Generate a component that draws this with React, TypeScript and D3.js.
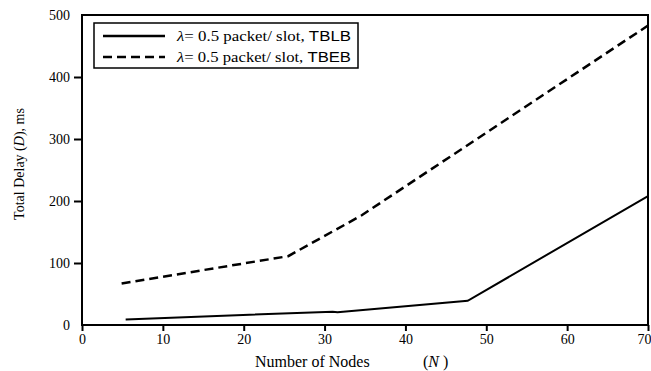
import React, { useRef, useEffect } from 'react';
import * as d3 from 'd3';

// N values and total delay (ms)
const nodesTBLB = [5.4, 31, 31.6, 47.7, 70];
const delayTBLB = [9, 21.5, 20.5, 39, 208];
const nodesTBEB = [4.9, 25.5, 34.6, 70];
const delayTBEB = [67, 111, 177, 483];

const xTicks = [0, 10, 20, 30, 40, 50, 60, 70];
const yTicks = [0, 100, 200, 300, 400, 500];

const legendLabels = ['TBLB', 'TBEB'];
const legendDash = ['none', '9,5'];

const serif = '"Liberation Serif", "Times New Roman", serif';
const sans = '"Liberation Sans", Arial, sans-serif';

const App = () => {
  const ref = useRef<SVGSVGElement>(null);

  useEffect(() => {
    const svg = d3.select(ref.current);
    svg.selectAll('*').remove();

    const left = 82;
    const right = 648;
    const top = 15;
    const bottom = 325;

    const x = d3.scaleLinear().domain([0, 70]).range([left, right]);
    const y = d3.scaleLinear().domain([0, 500]).range([bottom, top]);

    // frame
    svg
      .append('rect')
      .attr('x', left)
      .attr('y', top)
      .attr('width', right - left)
      .attr('height', bottom - top)
      .attr('fill', 'none')
      .attr('stroke', '#000')
      .attr('stroke-width', 2);

    const xAxis = svg
      .append('g')
      .attr('transform', `translate(0,${bottom})`)
      .call(d3.axisBottom(x).tickValues(xTicks).tickSize(6).tickPadding(3));
    xAxis.select('path').remove();
    xAxis.selectAll('line').attr('stroke-width', 2);
    xAxis
      .selectAll('text')
      .attr('font-family', serif)
      .attr('font-size', '14px')
      .attr('fill', '#000');
    // last label sits flush with the page edge
    xAxis
      .selectAll('text')
      .filter((d: any) => d === 70)
      .attr('text-anchor', 'end')
      .attr('dx', '3px');

    const yAxis = svg
      .append('g')
      .attr('transform', `translate(${left},0)`)
      .call(d3.axisLeft(y).tickValues(yTicks).tickSize(8).tickPadding(4));
    yAxis.select('path').remove();
    yAxis.selectAll('line').attr('stroke-width', 2);
    yAxis.selectAll('line').filter((d: any) => d === 0 || d === 500).remove();
    yAxis
      .selectAll('text')
      .attr('font-family', serif)
      .attr('font-size', '14px')
      .attr('fill', '#000');

    // axis titles
    const xt = svg
      .append('text')
      .attr('y', 367)
      .attr('font-family', serif)
      .attr('font-size', '16px');
    xt.append('tspan').attr('x', 255).text('Number of Nodes');
    xt.append('tspan').attr('x', 423).text('(');
    xt.append('tspan').attr('font-style', 'italic').text('N');
    xt.append('tspan').text(' )');

    const yt = svg
      .append('text')
      .attr('transform', 'translate(24,164) rotate(-90)')
      .attr('text-anchor', 'middle')
      .attr('font-family', serif)
      .attr('font-size', '14px');
    yt.append('tspan').text('Total Delay (');
    yt.append('tspan').attr('font-style', 'italic').text('D');
    yt.append('tspan').text('), ms');

    const line = d3
      .line<[number, number]>()
      .x((d) => x(d[0]))
      .y((d) => y(d[1]));

    svg
      .append('path')
      .datum(nodesTBLB.map((n, i) => [n, delayTBLB[i]] as [number, number]))
      .attr('d', line)
      .attr('fill', 'none')
      .attr('stroke', '#000')
      .attr('stroke-width', 2);

    svg
      .append('path')
      .datum(nodesTBEB.map((n, i) => [n, delayTBEB[i]] as [number, number]))
      .attr('d', line)
      .attr('fill', 'none')
      .attr('stroke', '#000')
      .attr('stroke-width', 2.5)
      .attr('stroke-dasharray', '9,5');

    // legend
    const lg = svg.append('g');
    lg.append('rect')
      .attr('x', 94)
      .attr('y', 23)
      .attr('width', 264)
      .attr('height', 45)
      .attr('fill', '#fff')
      .attr('stroke', '#000')
      .attr('stroke-width', 1.5);

    legendLabels.forEach((lab, i) => {
      const ly = 36 + i * 21;
      lg.append('line')
        .attr('x1', 103)
        .attr('x2', 165)
        .attr('y1', ly)
        .attr('y2', ly)
        .attr('stroke', '#000')
        .attr('stroke-width', 2.5)
        .attr('stroke-dasharray', legendDash[i]);
      const t = lg
        .append('text')
        .attr('x', 177)
        .attr('y', ly + 5)
        .attr('font-family', serif)
        .attr('font-size', '15px')
        .attr('textLength', 174)
        .attr('lengthAdjust', 'spacingAndGlyphs');
      t.append('tspan').attr('font-style', 'italic').text('λ');
      t.append('tspan').text('= 0.5 packet/ slot, ');
      t.append('tspan').attr('font-family', sans).text(lab);
    });
  }, []);

  return (
    <svg
      ref={ref}
      width={651}
      height={371}
      style={{ position: 'absolute', left: 0, top: 0, background: '#fff' }}
    ></svg>
  );
};

export default App;
